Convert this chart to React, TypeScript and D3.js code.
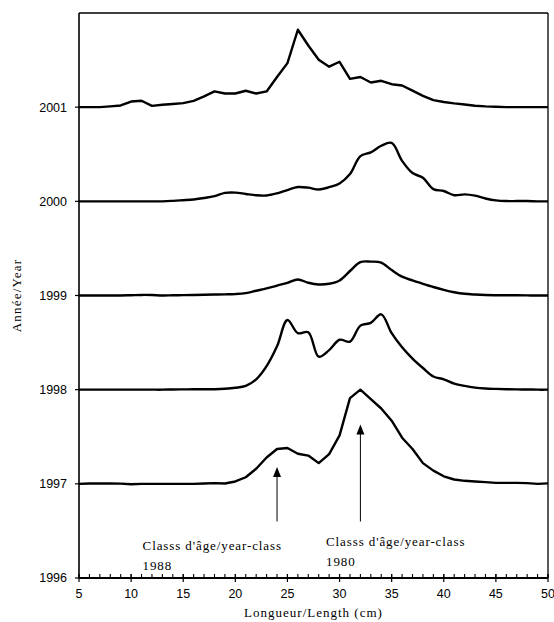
import React from 'react';
import * as d3 from 'd3';

// Length classes (cm)
const lengths = [5,6,7,8,9,10,11,12,13,14,15,16,17,18,19,20,21,22,23,24,25,26,27,28,29,30,31,32,33,34,35,36,37,38,39,40,41,42,43,44,45,46,47,48,49,50];

// Relative frequencies, offset by year
const v1997 = [0,0.003,0.003,0.003,0.002,-0.005,0,0,0,0,0,0,0.003,0.008,0.003,0.025,0.07,0.16,0.28,0.37,0.38,0.32,0.30,0.22,0.315,0.515,0.91,1.0,0.90,0.80,0.67,0.49,0.37,0.22,0.14,0.08,0.046,0.032,0.025,0.018,0.01,0.01,0.01,0.008,0,0.005];
const v1998 = [0,0,0,0,0,0,0,0,0,0.002,0.003,0.004,0.004,0.005,0.01,0.02,0.04,0.11,0.25,0.46,0.74,0.60,0.61,0.35,0.42,0.53,0.51,0.68,0.71,0.80,0.60,0.45,0.33,0.23,0.14,0.11,0.065,0.04,0.022,0.012,0.008,0.005,0.003,0.002,0,0];
const v1999 = [0,0,0,0,0,0.003,0.006,0.005,0,0.002,0.004,0.006,0.008,0.01,0.012,0.015,0.025,0.05,0.075,0.105,0.135,0.17,0.135,0.117,0.125,0.16,0.26,0.355,0.36,0.35,0.27,0.20,0.16,0.124,0.09,0.06,0.035,0.018,0.01,0.005,0.003,0.002,0.002,0.001,0,0];
const v2000 = [0,0,0,0,0,0,0,0,0,0.005,0.012,0.02,0.035,0.055,0.09,0.093,0.078,0.064,0.062,0.085,0.12,0.152,0.145,0.125,0.15,0.19,0.29,0.48,0.52,0.59,0.62,0.43,0.30,0.25,0.13,0.11,0.065,0.074,0.06,0.03,0.01,0.003,0.003,0.003,0,0];
const v2001 = [0,0,0,0.008,0.018,0.06,0.068,0.014,0.025,0.033,0.043,0.067,0.115,0.167,0.145,0.145,0.174,0.145,0.167,0.32,0.468,0.822,0.655,0.503,0.43,0.482,0.30,0.32,0.262,0.28,0.244,0.23,0.175,0.12,0.075,0.055,0.04,0.028,0.015,0.008,0.004,0,0,0,0,0];

const seriesYears = [1997, 1998, 1999, 2000, 2001];
const seriesValues = [v1997, v1998, v1999, v2000, v2001];
const seriesSmooth = [false, true, true, true, false];

const xTickLabels = [5,10,15,20,25,30,35,40,45,50];
const yTickLabels = [1996,1997,1998,1999,2000,2001];

// Annotations: arrow length position, tip and tail (in year units), label lines
const annLengths = [24, 32];
const annTips = [1997.18, 1997.63];
const annTails = [1996.6, 1996.6];
const annTextX = [11.1, 28.7];
const annTextY = [1996.295, 1996.335];
const annLine1 = ["Classs d'âge/year-class", "Classs d'âge/year-class"];
const annLine2 = ['1988', '1980'];

const W = 554, H = 622;
const L = 79, R = 548, T = 13, B = 578;

export default function App() {
  const x = d3.scaleLinear().domain([5, 50]).range([L, R]);
  const y = d3.scaleLinear().domain([1996, 2002]).range([B, T]);

  const paths = seriesValues.map((vals, i) => {
    const yr = seriesYears[i];
    const gen = d3.line<number>()
      .x((_, j) => x(lengths[j]))
      .y((v) => y(yr + v))
      .curve(seriesSmooth[i] ? d3.curveCatmullRom.alpha(0.5) : d3.curveLinear);
    return gen(vals) || '';
  });

  const sans = 'Arial, "Liberation Sans", sans-serif';
  const serif = '"Times New Roman", "Liberation Serif", serif';

  return (
    <svg width={W} height={H} style={{ position: 'absolute', left: 0, top: 0, background: '#fff' }}>
      <rect x={0} y={0} width={W} height={H} fill="#fff" />
      {/* frame */}
      <line x1={x(5)} x2={x(50)} y1={y(2002)} y2={y(2002)} stroke="#000" strokeWidth={1.3} />
      <line x1={x(50)} x2={x(50)} y1={y(2002)} y2={y(1996)} stroke="#000" strokeWidth={1.3} />
      <line x1={x(5)} x2={x(5)} y1={y(2002)} y2={y(1996)} stroke="#000" strokeWidth={1.6} />
      {/* y ticks */}
      {yTickLabels.map((t) => (
        <g key={t}>
          <line x1={x(5) - 4} x2={x(5)} y1={y(t)} y2={y(t)} stroke="#000" strokeWidth={1.2} />
          <text x={x(5) - 12} y={y(t)} dy="0.35em" textAnchor="end" fontFamily={sans} fontSize={12.5} fill="#000">{t}</text>
        </g>
      ))}
      {/* x minor ticks */}
      {lengths.map((l) => (
        <line key={'m' + l} x1={x(l)} x2={x(l)} y1={y(1996) - 4} y2={y(1996)} stroke="#000" strokeWidth={1.1} />
      ))}
      {xTickLabels.map((t) => (
        <g key={'x' + t}>
          <line x1={x(t)} x2={x(t)} y1={y(1996) - 4} y2={y(1996) + 4} stroke="#000" strokeWidth={1.2} />
          <text x={x(t)} y={y(1996) + 20} textAnchor="middle" fontFamily={sans} fontSize={12.5} fill="#000">{t}</text>
        </g>
      ))}
      <line x1={x(5)} x2={x(50)} y1={y(1996)} y2={y(1996)} stroke="#000" strokeWidth={2} />
      {/* curves */}
      {paths.map((p, i) => (
        <path key={'p' + i} d={p} fill="none" stroke="#000" strokeWidth={2.4} strokeLinejoin="round" />
      ))}
      {/* annotations */}
      {annLengths.map((l, i) => {
        const ax = x(l);
        const tip = y(annTips[i]);
        const tail = y(annTails[i]);
        return (
          <g key={'a' + i}>
            <line x1={ax} x2={ax} y1={tail} y2={tip + 8} stroke="#000" strokeWidth={1} />
            <path d={`M${ax},${tip} L${ax - 4},${tip + 10} L${ax + 4},${tip + 10} Z`} fill="#000" />
            <text x={x(annTextX[i])} y={y(annTextY[i])} fontFamily={serif} fontSize={13} letterSpacing={0.9} fill="#000">{annLine1[i]}</text>
            <text x={x(annTextX[i])} y={y(annTextY[i]) + 20} fontFamily={serif} fontSize={13} letterSpacing={0.9} fill="#000">{annLine2[i]}</text>
          </g>
        );
      })}
      {/* axis titles */}
      <text x={(L + R) / 2} y={617} textAnchor="middle" fontFamily={serif} fontSize={13} letterSpacing={1} fill="#000">Longueur/Length (cm)</text>
      <text transform={`translate(21,${(T + B) / 2}) rotate(-90)`} textAnchor="middle" fontFamily={serif} fontSize={13} letterSpacing={1.2} fill="#000">Année/Year</text>
    </svg>
  );
}
